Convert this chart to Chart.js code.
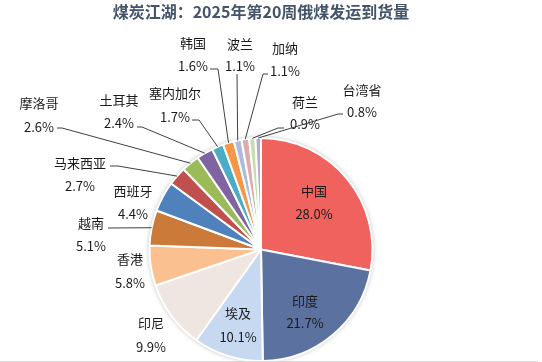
<!DOCTYPE html>
<html>
<head>
<meta charset="utf-8">
<script src="https://cdn.jsdelivr.net/npm/chart.js@4.4.1/dist/chart.umd.min.js"></script>
<style>
html,body{margin:0;padding:0;background:#fff;}
#wrap{position:relative;width:542px;height:362px;}
</style>
</head>
<body>
<div id="wrap"><canvas id="c" width="542" height="362"></canvas></div>
<script>
const titleText = '煤炭江湖：2025年第20周俄煤发运到货量';
const categories = ['中国','印度','埃及','印尼','香港','越南','西班牙','马来西亚','摩洛哥','土耳其','塞内加尔','韩国','波兰','加纳','荷兰','台湾省'];
const shares = [28.0,21.7,10.1,9.9,5.8,5.1,4.4,2.7,2.6,2.4,1.7,1.6,1.1,1.1,0.9,0.8];
const sliceColors = ['#f0625d','#5b72a0','#c6d9f1','#f0e6e1','#fac090','#cc7a3a','#4f81bd','#c0504d','#9bbb59','#8064a2','#4bacc6','#f79646','#aebbdc','#dcabab','#c8dcae','#b4a9d0'];

// label layout (text centre x, name y, percent y, optional leader start and elbow)
const labelLayout = {
  '中国':   {x:314, ny:191, py:214},
  '印度':   {x:305, ny:301, py:323},
  '埃及':   {x:238, ny:313, py:337},
  '印尼':   {x:151, ny:323, py:347},
  '香港':   {x:130, ny:259, py:283},
  '越南':   {x:91,  ny:223, py:246, s:[108,228]},
  '西班牙': {x:133, ny:191, py:214},
  '马来西亚':{x:80,  ny:163, py:186, s:[110,166], e:[118,166]},
  '摩洛哥': {x:39,  ny:103, py:127, s:[57,128], e:[62,128]},
  '土耳其': {x:119, ny:100, py:123, s:[137,127], e:[142,127]},
  '塞内加尔':{x:175, ny:93,  py:117, s:[192,120], e:[199,120]},
  '韩国':   {x:193, ny:43,  py:66,  s:[210,69], e:[218,69]},
  '波兰':   {x:240, ny:44,  py:66,  s:[237,74]},
  '加纳':   {x:285, ny:48,  py:71,  s:[268,74], e:[263,74]},
  '荷兰':   {x:305, ny:102, py:124, s:[284,128], e:[278,128]},
  '台湾省': {x:362, ny:90,  py:112, s:[343,114], e:[338,114]}
};

const FONT = '"Noto Sans CJK SC","Noto Sans",sans-serif';

const shadowPlugin = {
  id:'shadow',
  beforeDatasetsDraw(chart){
    const a = chart.getDatasetMeta(0).data[0];
    if(!a) return;
    const ctx = chart.ctx;
    ctx.save();
    ctx.beginPath();
    ctx.arc(a.x, a.y, a.outerRadius, 0, Math.PI*2);
    ctx.fillStyle = '#ffffff';
    ctx.shadowColor = 'rgba(0,0,0,0.35)';
    ctx.shadowBlur = 5;
    ctx.fill();
    ctx.restore();
  }
};

const labelPlugin = {
  id:'pieLabels',
  afterDatasetsDraw(chart){
    const ctx = chart.ctx;
    const meta = chart.getDatasetMeta(0);
    ctx.save();
    ctx.font = '13px ' + FONT;
    ctx.textAlign = 'center';
    ctx.textBaseline = 'middle';
    meta.data.forEach((arc, i) => {
      const name = categories[i];
      const L = labelLayout[name];
      if(!L) return;
      if(L.s){
        const mid = (arc.startAngle + arc.endAngle)/2;
        const ex = arc.x + Math.cos(mid)*arc.outerRadius;
        const ey = arc.y + Math.sin(mid)*arc.outerRadius;
        ctx.beginPath();
        ctx.strokeStyle = '#404040';
        ctx.lineWidth = 1;
        ctx.moveTo(L.s[0], L.s[1]);
        if(L.e) ctx.lineTo(L.e[0], L.e[1]);
        ctx.lineTo(ex, ey);
        ctx.stroke();
      }
      ctx.fillStyle = '#1a1a1a';
      ctx.fillText(name, L.x, L.ny);
      ctx.fillText(shares[i].toFixed(1) + '%', L.x, L.py);
    });
    // title
    ctx.font = 'bold 16px ' + FONT;
    ctx.fillStyle = '#44546a';
    ctx.fillText(titleText, 261, 12);
    ctx.restore();
  },
  afterDraw(chart){
    const ctx = chart.ctx;
    ctx.save();
    ctx.strokeStyle = '#d9d9d9';
    ctx.lineWidth = 1;
    ctx.beginPath();
    ctx.moveTo(0, 361.5);
    ctx.lineTo(538, 361.5);
    ctx.stroke();
    ctx.restore();
  }
};

new Chart(document.getElementById('c'), {
  type:'pie',
  data:{
    labels:categories,
    datasets:[{
      data:shares,
      backgroundColor:sliceColors,
      borderColor:'#ffffff',
      borderWidth:2,
      hoverBorderWidth:2,
      hoverOffset:0
    }]
  },
  options:{
    responsive:false,
    animation:false,
    events:[],
    layout:{padding:{top:137,left:148,right:168,bottom:0}},
    plugins:{
      legend:{display:false},
      tooltip:{enabled:false},
      title:{display:false}
    }
  },
  plugins:[shadowPlugin,labelPlugin]
});
</script>
</body>
</html>
